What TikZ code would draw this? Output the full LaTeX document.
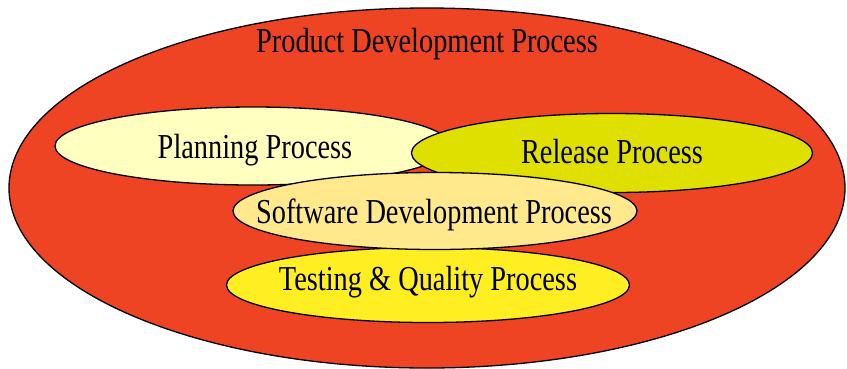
\documentclass[tikz,border=0pt]{standalone}
\usepackage{fontspec}
\setmainfont[FakeStretch=0.81]{Liberation Serif}
\usetikzlibrary{shapes.geometric}

\definecolor{outerred}{HTML}{EE4423}
\definecolor{planfill}{HTML}{FFFFC0}
\definecolor{releasefill}{HTML}{DFDF00}
\definecolor{softfill}{HTML}{FFE98C}
\definecolor{testfill}{HTML}{FFEE22}

\tikzset{
  blob/.style={ellipse, draw=black, line width=1.3pt, inner sep=0pt},
  caption/.style={anchor=base, inner sep=0pt, font=\fontsize{35}{38}\selectfont}
}

\begin{document}
\begin{tikzpicture}[x=1pt, y=-1pt]
  \useasboundingbox (0,0) rectangle (847,368);
  \fill[white] (0,0) rectangle (847,368);

  % outer process
  \node[blob, fill=outerred, minimum width=836pt, minimum height=360pt] (product) at (427,188) {};
  \node[caption] (productlbl) at (427,52) {Product Development Process};

  % sub-processes, back to front
  \node[blob, fill=planfill, minimum width=396pt, minimum height=78pt] (planning) at (253,146) {};
  \node[caption] (planninglbl) at (255,158) {Planning Process};

  \node[blob, fill=releasefill, minimum width=401pt, minimum height=79pt] (release) at (612,153) {};
  \node[caption] (releaselbl) at (612,163) {Release Process};

  \node[blob, fill=testfill, minimum width=403pt, minimum height=75pt] (testing) at (428,285) {};
  \node[caption] (testinglbl) at (428,290) {Testing \& Quality Process};

  \node[blob, fill=softfill, minimum width=404pt, minimum height=77pt] (software) at (435,211) {};
  \node[caption] (softwarelbl) at (434,223) {Software Development Process};
\end{tikzpicture}
\end{document}
